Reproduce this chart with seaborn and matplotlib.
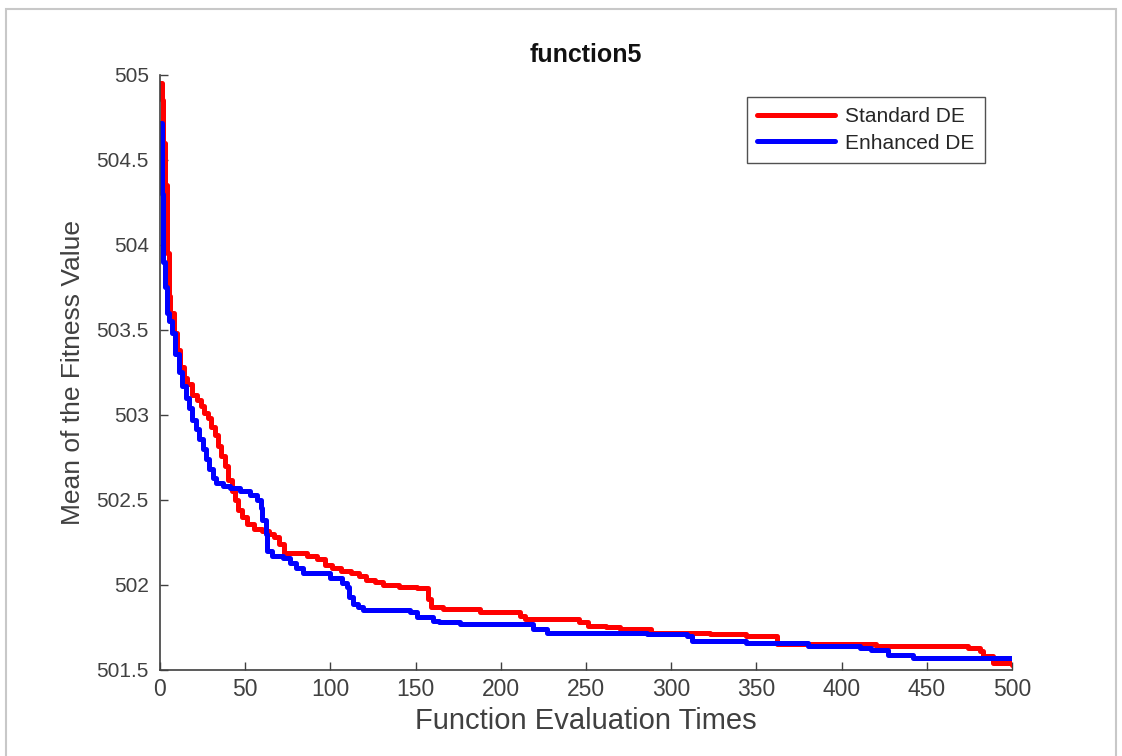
import numpy as np
import pandas as pd
import matplotlib
matplotlib.use("Agg")
import matplotlib.pyplot as plt
import seaborn as sns
from matplotlib.patches import Rectangle

# ---- data ----
std_x = [0, 1, 2, 3, 4, 5, 6, 8, 10, 12, 14, 16, 19, 22, 24, 26, 28, 30, 32, 34,
         36, 38, 40, 42, 44, 46, 48, 51, 55, 60, 64, 67, 70, 73, 86, 92, 97, 101, 106, 112,
         117, 121, 126, 131, 140, 151, 157, 159, 166, 188, 211, 214, 230, 246, 251, 262, 270, 288, 305, 323,
         344, 362, 381, 420, 456, 474, 481, 483, 489, 500]
std_y = [504.95, 504.85, 504.6, 504.35, 503.95, 503.7, 503.6, 503.48, 503.38, 503.28,
         503.22, 503.18, 503.12, 503.09, 503.05, 503.01, 502.98, 502.93, 502.88, 502.82,
         502.76, 502.70, 502.62, 502.55, 502.5, 502.44, 502.4, 502.36, 502.33, 502.32,
         502.3, 502.28, 502.24, 502.19, 502.17, 502.15, 502.12, 502.1, 502.08, 502.07,
         502.05, 502.03, 502.02, 502.0, 501.99, 501.98, 501.92, 501.87, 501.86, 501.84,
         501.82, 501.8, 501.8, 501.78, 501.76, 501.75, 501.74, 501.72, 501.72, 501.71,
         501.7, 501.65, 501.65, 501.64, 501.64, 501.63, 501.61, 501.58, 501.54, 501.53]

enh_x = [0, 1, 2, 3, 4, 5, 7, 9, 11, 13, 15, 17, 19, 21, 23, 25, 27, 29, 31, 33,
         37, 41, 47, 53, 57, 59, 60, 62, 63, 66, 72, 76, 80, 84, 98, 100, 107, 110, 111, 113,
         116, 119, 143, 147, 151, 160, 164, 176, 215, 219, 227, 282, 286, 309, 312, 344, 380, 411, 417, 427,
         442, 500]
enh_y = [504.72, 504.3, 503.9, 503.75, 503.6, 503.55, 503.48, 503.36, 503.25, 503.17,
         503.1, 503.04, 502.97, 502.92, 502.86, 502.8, 502.74, 502.68, 502.63, 502.6,
         502.58, 502.57, 502.55, 502.53, 502.5, 502.45, 502.38, 502.3, 502.2, 502.17,
         502.16, 502.13, 502.1, 502.07, 502.07, 502.04, 502.01, 501.99, 501.93, 501.89,
         501.87, 501.85, 501.85, 501.84, 501.81, 501.79, 501.78, 501.77, 501.77, 501.74,
         501.72, 501.72, 501.71, 501.7, 501.67, 501.66, 501.64, 501.63, 501.62, 501.59,
         501.57, 501.57]

series_names = ["Standard DE", "Enhanced DE"]
series_colors = ["#ff0000", "#0000ff"]
x_ticks = [0, 50, 100, 150, 200, 250, 300, 350, 400, 450, 500]
y_ticks = [501.5, 502, 502.5, 503, 503.5, 504, 504.5, 505]
y_tick_labels = ["501.5", "502", "502.5", "503", "503.5", "504", "504.5", "505"]

df = pd.concat([
    pd.DataFrame({"x": std_x, "y": std_y, "method": series_names[0]}),
    pd.DataFrame({"x": enh_x, "y": enh_y, "method": series_names[1]}),
], ignore_index=True)

# ---- style ----
sns.set_theme(style="ticks")
plt.rcParams["font.family"] = ["Liberation Sans", "DejaVu Sans"]
txt = "#404040"

fig = plt.figure(figsize=(11.22, 7.56), dpi=100)
ax = fig.add_axes([0.1426, 0.1138, 0.902 - 0.1426, 0.9008 - 0.1138])

sns.lineplot(data=df, x="x", y="y", hue="method", hue_order=series_names,
             palette=series_colors, drawstyle="steps-post", linewidth=3.6,
             estimator=None, sort=False, ax=ax)

ax.set_xlim(0, 500)
ax.set_ylim(501.5, 505)
ax.set_xticks(x_ticks)
ax.set_xticklabels([str(v) for v in x_ticks])
ax.set_yticks(y_ticks)
ax.set_yticklabels(y_tick_labels)
ax.tick_params(direction="in", length=6, width=1, colors=txt, pad=8)
ax.tick_params(axis="y", labelsize=15)
ax.tick_params(axis="x", labelsize=16.5, pad=6)
for side in ["top", "right"]:
    ax.spines[side].set_visible(False)
for side in ["left", "bottom"]:
    ax.spines[side].set_color(txt)
    ax.spines[side].set_linewidth(1.2)

ax.set_xlabel("Function Evaluation Times", fontsize=21, color=txt, labelpad=4)
ax.set_ylabel("Mean of the Fitness Value", fontsize=19, color=txt, labelpad=8)
ax.set_title("function5", fontsize=18, fontweight="bold", color="#111111", pad=9)

leg = ax.legend(loc="upper right", bbox_to_anchor=(0.968, 0.963), borderaxespad=0,
                fontsize=15, frameon=True, fancybox=False, handlelength=3.7,
                borderpad=0.5, labelspacing=0.35, handletextpad=0.5, title=None)
leg.get_frame().set_edgecolor("#262626")
leg.get_frame().set_linewidth(1.0)
for t in leg.get_texts():
    t.set_color("#262626")

# screenshot-like frame around the figure
fig.patches.append(Rectangle((0.005, -0.02), 0.99, 1.008, transform=fig.transFigure,
                             fill=False, edgecolor="#c8c8c8", linewidth=1.5))

fig.savefig("out.png", dpi=100, facecolor="white")
